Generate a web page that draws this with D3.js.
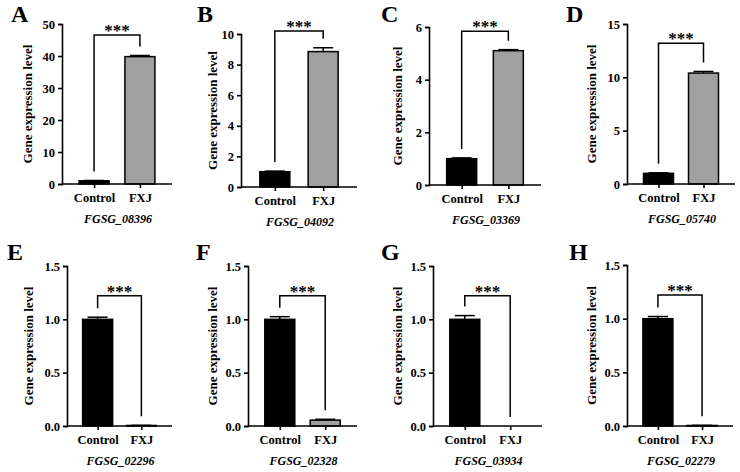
<!DOCTYPE html>
<html>
<head>
<meta charset="utf-8">
<script src="https://d3js.org/d3.v7.min.js"></script>
<style>
  body { margin: 0; background: #fff; }
  text { font-family: "Liberation Serif", "Times New Roman", serif; font-weight: bold; }
</style>
</head>
<body>
<script>
// ---- data ----
const letters = ["A", "B", "C", "D", "E", "F", "G", "H"];
const genes = ["FGSG_08396", "FGSG_04092", "FGSG_03369", "FGSG_05740",
               "FGSG_02296", "FGSG_02328", "FGSG_03934", "FGSG_02279"];
const groups = ["Control", "FXJ"];
const controlMean = [1, 1, 1, 1, 1, 1, 1, 1];
const controlErr = [0.1, 0.04, 0.03, 0.05, 0.02, 0.025, 0.035, 0.02];
const fxjMean = [39.8, 8.85, 5.1, 10.4, 0.005, 0.055, 0, 0.005];
const fxjErr = [0.35, 0.25, 0.04, 0.15, 0.001, 0.008, 0, 0.001];
const yMax = [50, 10, 6, 15, 1.5, 1.5, 1.5, 1.5];
const yTicks = [
  [0, 10, 20, 30, 40, 50],
  [0, 2, 4, 6, 8, 10],
  [0, 2, 4, 6],
  [0, 5, 10, 15],
  [0, 0.5, 1.0, 1.5],
  [0, 0.5, 1.0, 1.5],
  [0, 0.5, 1.0, 1.5],
  [0, 0.5, 1.0, 1.5]
];
const sigLevel = [46.6, 10.2, 5.84, 13.2, 1.22, 1.22, 1.22, 1.22];
const sigLabel = "***";

// ---- layout (pixels) ----
const width = 740, height = 472;
const layout = [
  {x0: 62,  x1: 172, top: 24,  bottom: 184, tx: 34, lx: 11,  ly: 22},
  {x0: 241, x1: 357, top: 34,  bottom: 187, tx: 28, lx: 197, ly: 22},
  {x0: 429, x1: 541, top: 27,  bottom: 185, tx: 31, lx: 381, ly: 22},
  {x0: 627, x1: 735, top: 24,  bottom: 184, tx: 35, lx: 566, ly: 22},
  {x0: 67,  x1: 172, top: 266, bottom: 426, tx: 38, lx: 7,   ly: 260},
  {x0: 248, x1: 357, top: 266, bottom: 426, tx: 35, lx: 196, ly: 260},
  {x0: 433, x1: 542, top: 266, bottom: 426, tx: 35, lx: 381, ly: 260},
  {x0: 627, x1: 733, top: 265, bottom: 426, tx: 35, lx: 569, ly: 260}
];
const barW = 30, capW = 20, gap = 9;

const svg = d3.select("body").append("svg")
  .attr("width", width)
  .attr("height", height);

letters.forEach((letter, i) => {
  const L = layout[i];
  const g = svg.append("g");

  const x = d3.scalePoint().domain(groups).range([L.x0, L.x1]).padding(0.7);
  const y = d3.scaleLinear().domain([0, yMax[i]]).range([L.bottom, L.top]);

  const means = [controlMean[i], fxjMean[i]];
  const errs = [controlErr[i], fxjErr[i]];
  const bars = groups.map((k, j) => ({key: k, v: means[j], e: errs[j]}));

  // bars
  g.selectAll("rect.bar").data(bars).enter().append("rect")
    .attr("x", d => x(d.key) - barW / 2)
    .attr("y", d => y(d.v))
    .attr("width", barW)
    .attr("height", d => Math.max(0, y(0) - y(d.v)))
    .attr("fill", d => d.key == "Control" ? "#000" : "#a0a0a0")
    .attr("stroke", "#000")
    .attr("stroke-width", d => d.v > 0 ? 1.5 : 0);

  // error bars (upper only)
  const eb = g.selectAll("g.err").data(bars.filter(d => d.e > 0)).enter().append("g")
    .attr("stroke", "#000").attr("stroke-width", 1.5);
  eb.append("line")
    .attr("x1", d => x(d.key)).attr("x2", d => x(d.key))
    .attr("y1", d => y(d.v)).attr("y2", d => y(d.v + d.e));
  eb.append("line")
    .attr("x1", d => x(d.key) - capW / 2).attr("x2", d => x(d.key) + capW / 2)
    .attr("y1", d => y(d.v + d.e)).attr("y2", d => y(d.v + d.e));

  // axes
  const yAxis = d3.axisLeft(y).tickValues(yTicks[i]).tickSizeOuter(0).tickSize(4)
    .tickFormat(i >= 4 ? d3.format(".1f") : d3.format("d"));
  const ya = g.append("g").attr("transform", `translate(${L.x0},0)`).call(yAxis);
  const xAxis = d3.axisBottom(x).tickSizeOuter(0).tickSize(4);
  const xa = g.append("g").attr("transform", `translate(0,${L.bottom})`).call(xAxis);
  xa.select(".domain").attr("d", `M${L.x0},0H${L.x1}`);
  [ya, xa].forEach(a => {
    a.selectAll("path, line").attr("stroke", "#000").attr("stroke-width", 1.6);
    a.selectAll("text").attr("fill", "#000")
      .style("font-family", '"Liberation Serif", serif').style("font-weight", "bold");
  });
  ya.selectAll("text").style("font-size", "12.5px").attr("x", -7);
  xa.selectAll("text").attr("y", 9).style("font-size", "12.5px");

  // gene name
  g.append("text")
    .attr("x", (x("Control") + x("FXJ")) / 2 + 1)
    .attr("y", L.bottom + 39)
    .attr("text-anchor", "middle")
    .style("font-size", "12px")
    .style("font-style", "italic")
    .text(genes[i]);

  // y title
  g.append("text")
    .attr("transform", `translate(${L.x0 - L.tx + 4},${(L.top + L.bottom) / 2}) rotate(-90)`)
    .attr("text-anchor", "middle")
    .style("font-size", "13px")
    .text("Gene expression level");

  // panel letter
  g.append("text")
    .attr("x", L.lx).attr("y", L.ly)
    .style("font-size", "24px")
    .text(letter);

  // significance bracket
  const by = y(sigLevel[i]);
  const cx = x("Control"), fx = x("FXJ");
  const cEnd = y(bars[0].v + bars[0].e) - gap;
  const fEnd = y(bars[1].v + bars[1].e) - gap;
  g.append("path")
    .attr("d", `M${cx},${cEnd}V${by}H${fx}V${fEnd}`)
    .attr("fill", "none")
    .attr("stroke", "#000")
    .attr("stroke-width", 1.5);
  g.append("text")
    .attr("x", (cx + fx) / 2)
    .attr("y", by + 1)
    .attr("text-anchor", "middle")
    .style("font-size", "17px")
    .text(sigLabel);
});
</script>
</body>
</html>
